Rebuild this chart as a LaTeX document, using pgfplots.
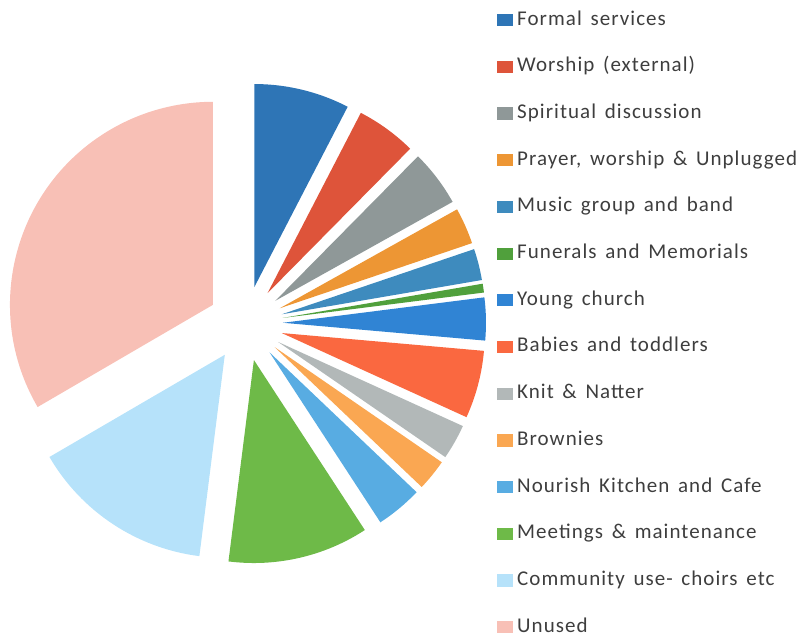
\documentclass[border=0pt]{standalone}
\usepackage{fontspec}
\setmainfont{Carlito}
\newfontfamily\legfont{Carlito}[LetterSpace=5,WordSpace=1.5]
\usepackage{pgfplots}
\usepackage{pgfplotstable}
\pgfplotsset{compat=1.18}
\definecolor{c0}{RGB}{46,117,182}
\definecolor{c1}{RGB}{222,84,58}
\definecolor{c2}{RGB}{143,152,152}
\definecolor{c3}{RGB}{237,150,52}
\definecolor{c4}{RGB}{62,139,190}
\definecolor{c5}{RGB}{80,160,60}
\definecolor{c6}{RGB}{48,132,212}
\definecolor{c7}{RGB}{250,104,64}
\definecolor{c8}{RGB}{178,184,184}
\definecolor{c9}{RGB}{250,167,82}
\definecolor{c10}{RGB}{88,172,226}
\definecolor{c11}{RGB}{110,186,72}
\definecolor{c12}{RGB}{182,226,250}
\definecolor{c13}{RGB}{248,192,182}
\definecolor{legtext}{RGB}{62,62,62}
% share of each activity, percent, clockwise from 12 o'clock
\pgfplotstableread{
idx value
0  7.6
1  4.8
2  4.5
3  2.9
4  2.5
5  0.7
6  3.4
7  5.4
8  2.8
9  2.5
10 3.7
11 11.2
12 14.6
13 33.4
}\piedata
\begin{document}
\begin{tikzpicture}
\useasboundingbox (0,0) rectangle (400pt,320pt);
\begin{axis}[
  at={(0,0)}, anchor=south west,
  x=0.5pt, y=0.5pt, xmin=0, xmax=800, ymin=0, ymax=640,
  hide axis, clip=false,
  legend image code/.code={\fill[#1] (0pt,-2.8pt) rectangle (7.5pt,2.8pt);},
  legend cell align=left,
  legend style={at={(0.621,0.993)}, anchor=north west, draw=none, fill=none,
    inner sep=0pt, outer sep=0pt, row sep=7.75pt,
    text=legtext, font=\legfont\fontsize{10.5}{12}\selectfont,
    nodes={inner sep=2.3pt, text height=8pt, text depth=3pt}},
]
\pgfplotstablegetrowsof{\piedata}
\pgfmathtruncatemacro{\N}{\pgfplotsretval-1}
\def\cum{0}
\pgfplotsforeachungrouped \i in {0,...,\N}{%
  \pgfplotstablegetelem{\i}{value}\of{\piedata}\let\v\pgfplotsretval
  \pgfmathsetmacro{\aone}{90-3.6*\cum}%
  \pgfmathsetmacro{\atwo}{90-3.6*(\cum+\v)}%
  \pgfmathsetmacro{\amid}{(\aone+\atwo)/2}%
  \pgfmathsetmacro{\cum}{\cum+\v}%
  \edef\temp{\noexpand\fill[c\i] (axis cs:245.5,316.5) ++(\amid:18.75pt) -- ++(\aone:101.5pt) arc[start angle=\aone, end angle=\atwo, radius=101.5pt] -- cycle;}%
  \temp
}
\addlegendimage{c0}\addlegendentry{Formal services}
\addlegendimage{c1}\addlegendentry{Worship (external)}
\addlegendimage{c2}\addlegendentry{Spiritual discussion}
\addlegendimage{c3}\addlegendentry{Prayer, worship \& Unplugged}
\addlegendimage{c4}\addlegendentry{Music group and band}
\addlegendimage{c5}\addlegendentry{Funerals and Memorials}
\addlegendimage{c6}\addlegendentry{Young church}
\addlegendimage{c7}\addlegendentry{Babies and toddlers}
\addlegendimage{c8}\addlegendentry{Knit \& Natter}
\addlegendimage{c9}\addlegendentry{Brownies}
\addlegendimage{c10}\addlegendentry{Nourish Kitchen and Cafe}
\addlegendimage{c11}\addlegendentry{Meetings \& maintenance}
\addlegendimage{c12}\addlegendentry{Community use- choirs etc}
\addlegendimage{c13}\addlegendentry{Unused}
\end{axis}
\end{tikzpicture}
\end{document}
